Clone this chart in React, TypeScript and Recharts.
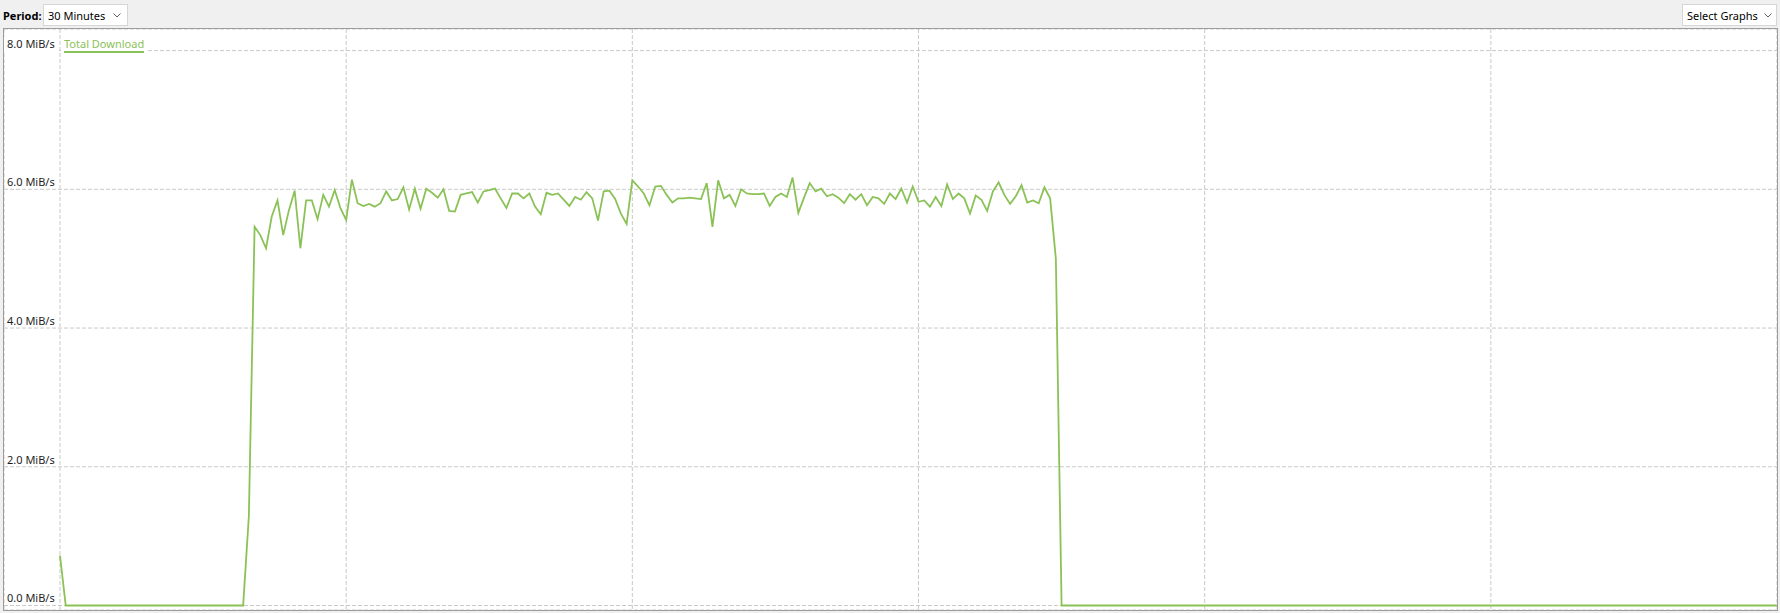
import React from 'react';
import { LineChart, Line, XAxis, YAxis, CartesianGrid, Legend } from 'recharts';

// ---- data ----
const SAMPLE_SECONDS = 6;
const SERIES_NAME = 'Total Download';
const DOWNLOAD_MIBS: number[] = [
  0.72,
  0, 0, 0, 0, 0, 0, 0, 0, 0, 0, 0, 0, 0, 0, 0, 0,
  0, 0, 0, 0, 0, 0, 0, 0, 0, 0, 0, 0, 0, 0, 0, 0,
  1.29,
  5.46, 5.34, 5.15, 5.61, 5.84, 5.34, 5.70, 5.98, 5.15, 5.84,
  5.84, 5.57, 5.92, 5.75, 5.99, 5.73, 5.56, 6.14, 5.80, 5.76,
  5.79, 5.75, 5.80, 5.97, 5.84, 5.86, 6.03, 5.71, 6.01, 5.72,
  6.01, 5.95, 5.88, 6.00, 5.69, 5.68, 5.92, 5.94, 5.96, 5.81,
  5.97, 5.99, 6.01, 5.87, 5.73, 5.94, 5.94, 5.87, 5.94, 5.75,
  5.64, 5.95, 5.92, 5.94, 5.85, 5.76, 5.89, 5.85, 5.96, 5.87,
  5.55, 5.97, 5.98, 5.86, 5.65, 5.50, 6.13, 6.04, 5.94, 5.77,
  6.04, 6.05, 5.92, 5.81, 5.87, 5.87, 5.88, 5.87, 5.86, 6.09,
  5.46, 6.13, 5.87, 5.92, 5.76, 6.00, 5.94, 5.93, 5.93, 5.94,
  5.76, 5.89, 5.94, 5.89, 6.17, 5.66, 5.88, 6.09, 5.97, 6.01,
  5.90, 5.93, 5.88, 5.80, 5.93, 5.85, 5.93, 5.77, 5.89, 5.87,
  5.79, 5.94, 5.86, 6.01, 5.81, 6.04, 5.82, 5.84, 5.75, 5.89,
  5.76, 6.07, 5.86, 5.94, 5.87, 5.65, 5.91, 5.85, 5.69, 5.97,
  6.10, 5.92, 5.79, 5.90, 6.06, 5.81, 5.84, 5.80, 6.03, 5.87,
  5.00,
  0, 0, 0, 0, 0, 0, 0, 0, 0, 0, 0, 0, 0, 0, 0, 0, 0, 0, 0, 0, 0,
  0, 0, 0, 0, 0, 0, 0, 0, 0, 0, 0, 0, 0, 0, 0, 0, 0, 0, 0, 0, 0,
  0, 0, 0, 0, 0, 0, 0, 0, 0, 0, 0, 0, 0, 0, 0, 0, 0, 0, 0, 0, 0,
  0, 0, 0, 0, 0, 0, 0, 0, 0, 0, 0, 0, 0, 0, 0, 0, 0, 0, 0, 0, 0,
  0, 0, 0, 0, 0, 0, 0, 0, 0, 0, 0, 0, 0, 0, 0, 0, 0, 0, 0, 0, 0,
  0, 0, 0, 0, 0, 0, 0, 0, 0, 0, 0, 0, 0, 0, 0, 0, 0, 0, 0, 0, 0,
];
const Y_TICKS = [0, 2, 4, 6, 8];
const Y_TICK_LABELS = ['0.0 MiB/s', '2.0 MiB/s', '4.0 MiB/s', '6.0 MiB/s', '8.0 MiB/s'];
const X_TICKS = [0, 300, 600, 900, 1200, 1500, 1800];
const PERIOD_LABEL = 'Period:';
const PERIOD_VALUE = '30 Minutes';
const SELECT_GRAPHS = 'Select Graphs';

// ---- styling / layout ----
const FONT = '"Noto Sans", sans-serif';
const GREEN = '#8bc257';
const X_DOMAIN: [number, number] = [-58.707, 1800];
const Y_DOMAIN: [number, number] = [-0.0649, 8.3114];

const chartData = DOWNLOAD_MIBS.map((v, i) => ({ t: i * SAMPLE_SECONDS, v }));

const YTick = (props: any) => {
  const { x, y, payload } = props;
  const idx = Y_TICKS.indexOf(payload.value);
  const label = Y_TICK_LABELS[idx] ?? '';
  const isTop = idx === Y_TICKS.length - 1;
  return (
    <g>
      {isTop && <rect x={x - 3} y={y - 14} width={55} height={17} fill="#ffffff" />}
      <text x={x} y={y - 3} fill="#1e1e1e" fontSize={11} fontFamily={FONT} textAnchor="start">
        {label}
      </text>
    </g>
  );
};

const LegendContent = (props: any) => {
  const entries = props.payload || [];
  return (
    <div style={{ background: '#ffffff', padding: '6px 2px 2px 3px', fontFamily: FONT, fontSize: 11 }}>
      {entries.map((e: any) => (
        <span
          key={e.value}
          style={{
            color: e.color,
            borderBottom: `2px solid ${e.color}`,
            display: 'inline-block',
            lineHeight: '14px',
          }}
        >
          {e.value}
        </span>
      ))}
    </div>
  );
};

const Chevron = () => (
  <svg width={8} height={5} style={{ display: 'block' }}>
    <polyline points="0.5,0.5 4,4 7.5,0.5" fill="none" stroke="#606060" strokeWidth={1} />
  </svg>
);

const boxStyle: React.CSSProperties = {
  position: 'absolute',
  top: 4,
  height: 22,
  background: '#ffffff',
  border: '1px solid #d6d6d6',
  boxSizing: 'border-box',
  display: 'flex',
  alignItems: 'center',
  fontSize: 11,
  color: '#000',
};

export default function App() {
  return (
    <div
      style={{
        position: 'absolute',
        left: 0,
        top: 0,
        width: 1780,
        height: 613,
        background: '#f0f0f0',
        overflow: 'hidden',
        fontFamily: FONT,
      }}
    >
      {/* toolbar */}
      <div
        style={{
          position: 'absolute',
          left: 3,
          top: 4,
          height: 22,
          display: 'flex',
          alignItems: 'center',
          fontSize: 11,
          fontWeight: 700,
          color: '#000',
        }}
      >
        {PERIOD_LABEL}
      </div>
      <div style={{ ...boxStyle, left: 43, width: 85 }}>
        <span style={{ paddingLeft: 4, flex: 1 }}>{PERIOD_VALUE}</span>
        <span style={{ paddingRight: 6 }}>
          <Chevron />
        </span>
      </div>
      <div style={{ ...boxStyle, left: 1682, width: 95 }}>
        <span style={{ paddingLeft: 4, flex: 1 }}>{SELECT_GRAPHS}</span>
        <span style={{ paddingRight: 4 }}>
          <Chevron />
        </span>
      </div>

      {/* chart background */}
      <div
        style={{
          position: 'absolute',
          left: 3,
          top: 28,
          width: 1775,
          height: 583,
          background: '#ffffff',
        }}
      />
      <div style={{ position: 'absolute', left: 4, top: 29 }}>
        <LineChart width={1773} height={581} data={chartData} margin={{ top: 0, right: 0, bottom: 0, left: 0 }}>
          <CartesianGrid stroke="#c9c9c9" strokeDasharray="4 2" />
          <XAxis
            dataKey="t"
            type="number"
            domain={X_DOMAIN}
            ticks={X_TICKS}
            allowDataOverflow
            hide
          />
          <YAxis
            type="number"
            domain={Y_DOMAIN}
            ticks={Y_TICKS}
            allowDataOverflow
            mirror
            axisLine={false}
            tickLine={false}
            tickSize={0}
            tickMargin={3}
            interval={0}
            tick={<YTick />}
          />
          <Legend
            layout="horizontal"
            verticalAlign="middle"
            align="center"
            wrapperStyle={{ left: 57, top: 1, width: 'auto', height: 'auto', lineHeight: 'normal' }}
            content={<LegendContent />}
          />
          <Line
            type="linear"
            dataKey="v"
            name={SERIES_NAME}
            stroke={GREEN}
            strokeWidth={1.8}
            dot={false}
            activeDot={false}
            isAnimationActive={false}
          />
        </LineChart>
      </div>
      {/* chart frame drawn on top */}
      <div
        style={{
          position: 'absolute',
          left: 3,
          top: 28,
          width: 1775,
          height: 583,
          border: '1px solid #9c9c9c',
          boxSizing: 'border-box',
          pointerEvents: 'none',
        }}
      />
    </div>
  );
}
